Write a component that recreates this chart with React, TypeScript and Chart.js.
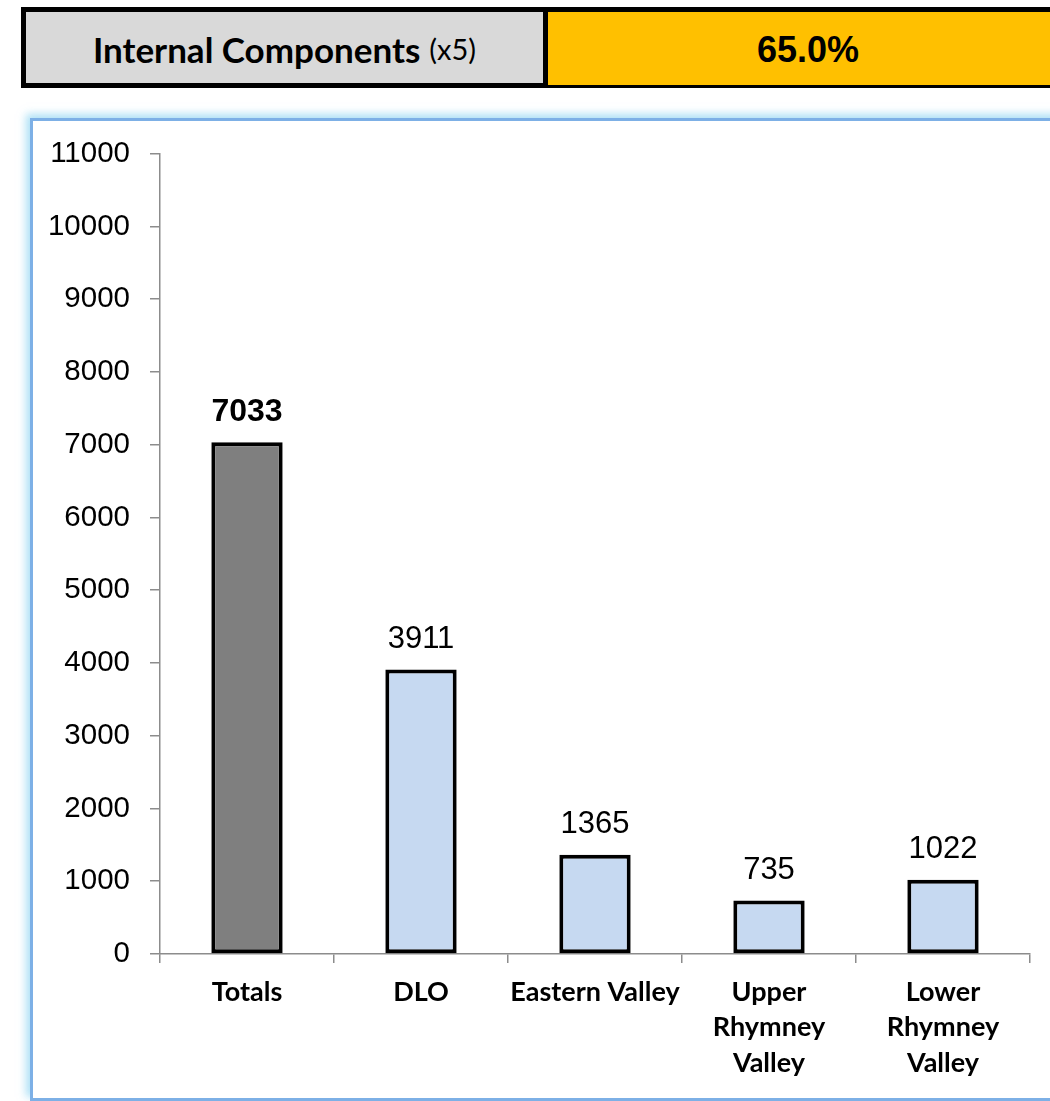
import React, { useEffect, useRef } from "react";
import { Chart, registerables } from "chart.js";

Chart.register(...registerables);

const categories: (string | string[])[] = [
  "Totals",
  "DLO",
  "Eastern Valley",
  ["Upper", "Rhymney", "Valley"],
  ["Lower", "Rhymney", "Valley"],
];
const values: number[] = [7033, 3911, 1365, 735, 1022];
const barColors: string[] = ["#7F7F7F", "#C6D9F1", "#C6D9F1", "#C6D9F1", "#C6D9F1"];
const yMin = 0;
const yMax = 11000;
const yStep = 1000;
const headerLabel = "Internal Components";
const headerSuffix = "(x5)";
const headerValue = "65.0%";

const valueLabelPlugin = {
  id: "valueLabels",
  afterDatasetsDraw(chart: any) {
    const ctx = chart.ctx;
    const meta = chart.getDatasetMeta(0);
    ctx.save();
    ctx.fillStyle = "#000";
    ctx.textAlign = "center";
    ctx.textBaseline = "middle";
    meta.data.forEach((bar: any, i: number) => {
      ctx.font = i === 0 ? "bold 32px 'Liberation Sans', Arial" : "31px 'Liberation Sans', Arial";
      ctx.fillText(String(values[i]), bar.x, bar.y - 30);
    });
    ctx.restore();
  },
};

export default function App() {
  const ref = useRef<HTMLCanvasElement>(null);
  useEffect(() => {
    if (!ref.current) return;
    const chart = new Chart(ref.current, {
      type: "bar",
      data: {
        labels: categories as any,
        datasets: [
          {
            data: values,
            backgroundColor: barColors,
            borderColor: "#000",
            borderWidth: 4,
            borderSkipped: false,
            barPercentage: 0.41,
            categoryPercentage: 1,
          },
        ],
      },
      options: {
        responsive: false,
        animation: false,
        devicePixelRatio: 1,
        layout: { padding: { top: 26.5, right: 20, left: 0, bottom: 0 } },
        plugins: { legend: { display: false }, tooltip: { enabled: false } },
        scales: {
          x: {
            grid: {
              display: true,
              drawOnChartArea: false,
              drawTicks: true,
              tickLength: 9,
              color: "#8C8C8C",
              lineWidth: 1.5,
              offset: true,
            },
            border: { display: true, color: "#8C8C8C", width: 1.5 },
            ticks: {
              color: "#000",
              padding: 11,
              maxRotation: 0,
              autoSkip: false,
              font: { family: "Lato, 'Open Sans', sans-serif", size: 27, weight: "bold", lineHeight: 1.32 },
            },
            afterFit(scale: any) {
              scale.height = 143;
            },
          },
          y: {
            min: yMin,
            max: yMax,
            grid: {
              display: true,
              drawOnChartArea: false,
              drawTicks: true,
              tickLength: 10,
              color: "#8C8C8C",
              lineWidth: 1.5,
            },
            border: { display: true, color: "#8C8C8C", width: 1.5 },
            ticks: {
              stepSize: yStep,
              color: "#000",
              padding: 20,
              callback: (v: any) => String(v),
              font: { family: "'Liberation Sans', Arial, sans-serif", size: 29.5 },
            },
            afterFit(scale: any) {
              scale.width = 127;
            },
          },
        },
      },
      plugins: [valueLabelPlugin],
    });
    return () => chart.destroy();
  }, []);

  return (
    <div style={{ position: "absolute", left: 0, top: 0, width: 1050, height: 1101, overflow: "hidden", background: "#fff" }}>
      <div
        style={{
          position: "absolute",
          left: 21,
          top: 7,
          width: 1060,
          height: 81,
          border: "5px solid #000",
          boxSizing: "border-box",
          display: "flex",
        }}
      >
        <div
          style={{
            width: 517,
            height: "100%",
            background: "#D9D9D9",
            display: "flex",
            alignItems: "center",
            justifyContent: "center",
            fontFamily: "Lato, sans-serif",
            color: "#000",
            paddingTop: 2,
            boxSizing: "border-box",
          }}
        >
          <span style={{ fontWeight: "bold", fontSize: 35 }}>{headerLabel}</span>
          <span style={{ fontSize: 29, marginLeft: 9 }}>{headerSuffix}</span>
        </div>
        <div
          style={{
            width: 520,
            height: "100%",
            background: "#FFC000",
            borderLeft: "5px solid #000",
            display: "flex",
            alignItems: "center",
            justifyContent: "center",
            fontFamily: "'Liberation Sans', Arial, sans-serif",
            fontWeight: "bold",
            fontSize: 36,
            color: "#000",
            paddingTop: 2,
          }}
        >
          {headerValue}
        </div>
      </div>
      <div
        style={{
          position: "absolute",
          left: 30,
          top: 118,
          width: 1040,
          height: 983,
          border: "3px solid #7DB0E6",
          boxSizing: "border-box",
          boxShadow: "-4px -4px 8px rgba(120, 205, 240, 0.6)",
          background: "#fff",
        }}
      >
        <canvas ref={ref} width={1017} height={981} style={{ position: "absolute", left: 0, top: -5 }} />
      </div>
    </div>
  );
}
